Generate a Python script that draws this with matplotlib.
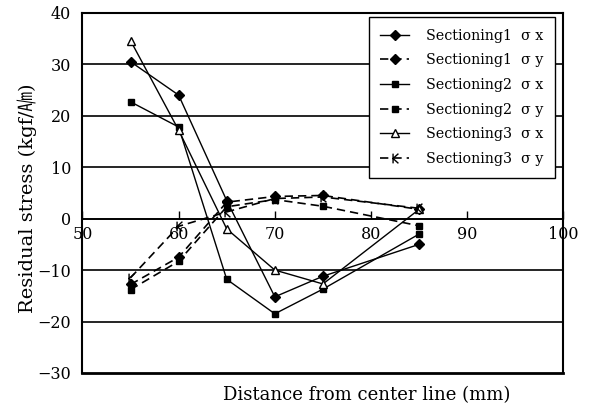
import matplotlib
matplotlib.use("Agg")
import matplotlib.pyplot as plt
from matplotlib.path import Path

plt.rcParams['font.family'] = ['DejaVu Serif', 'Noto Sans CJK KR']

x = [55, 60, 65, 70, 75, 85]
s1_sx = [30.5, 24.0, 3.5, -15.2, -11.2, -5.0]
s1_sy = [-12.8, -7.5, 3.2, 4.3, 4.5, 1.8]
s2_sx = [22.7, 17.8, -11.8, -18.5, -13.7, -3.0]
s2_sy = [-13.8, -8.3, 2.3, 3.7, 2.4, -1.4]
s3_sx = [34.6, 17.2, -2.0, -10.0, -12.7, 1.8]
s3_sy = [-11.5, -1.5, 1.3, 3.9, 4.2, 2.0]

labels = ["Sectioning1  σ x", "Sectioning1  σ y", "Sectioning2  σ x",
          "Sectioning2  σ y", "Sectioning3  σ x", "Sectioning3  σ y"]
xticks = [50, 60, 70, 80, 90, 100]
yticks = [-30, -20, -10, 0, 10, 20, 30, 40]

kmark = Path([(-0.5, -1), (-0.5, 1), (0.6, 1), (-0.5, 0), (0.6, -1)],
             [Path.MOVETO, Path.LINETO, Path.MOVETO, Path.LINETO, Path.LINETO])

fig = plt.figure(figsize=(5.95, 4.12), dpi=100)
ax = fig.add_axes([0.1385, 0.0947, 0.8085, 0.8743])

for v in yticks[1:-1]:
    ax.axhline(v, color='black', lw=1.2, zorder=1)

dash = (0, (5, 3))
ax.plot(x, s1_sx, '-', color='black', lw=1.0, marker='D', ms=5, label=labels[0], zorder=3)
ax.plot(x, s1_sy, linestyle=dash, color='black', lw=1.2, marker='D', ms=5, label=labels[1], zorder=3)
ax.plot(x, s2_sx, '-', color='black', lw=1.0, marker='s', ms=5, label=labels[2], zorder=3)
ax.plot(x, s2_sy, linestyle=dash, color='black', lw=1.2, marker='s', ms=5, label=labels[3], zorder=3)
ax.plot(x, s3_sx, '-', color='black', lw=1.0, marker='^', ms=6, mfc='white', mec='black', label=labels[4], zorder=3)
ax.plot(x, s3_sy, linestyle=dash, color='black', lw=1.2, marker=kmark, ms=7, mfc='none', mec='black', mew=1.0, label=labels[5], zorder=3)

ax.set_xlim(50, 100)
ax.set_ylim(-30, 40)
ax.set_xticks(xticks)
ax.set_yticks(yticks)
ax.set_yticklabels([str(v) if v >= 0 else '\u2212' + str(-v) for v in yticks])

for s in ax.spines.values():
    s.set_linewidth(1.5)
    s.set_color('black')
ax.spines['bottom'].set_position(('data', 0))
ax.spines['bottom'].set_linewidth(1.2)
ax.axhline(-30, color='black', lw=2.0, clip_on=False, zorder=4)

ax.tick_params(axis='x', direction='in', length=6, width=1.0, pad=5, labelsize=11.5)
ax.tick_params(axis='y', length=0, pad=8, labelsize=11.5)

leg = ax.legend(loc='upper right', bbox_to_anchor=(0.982, 0.988), borderaxespad=0,
                fontsize=10.3, frameon=True, fancybox=False, edgecolor='black', framealpha=1,
                handlelength=2.0, labelspacing=0.75, borderpad=0.8, handletextpad=1.2)
leg.get_frame().set_linewidth(1.0)
leg.set_zorder(5)

fig.text(367 / 595, 1 - 395 / 412, "Distance from center line (mm)", ha='center', va='center', fontsize=13)
fig.text(27 / 595, 1 - 198 / 412, "Residual stress (kgf/\u33df)", ha='center', va='center',
         rotation=90, fontsize=14)

fig.savefig("out.png", dpi=100)
